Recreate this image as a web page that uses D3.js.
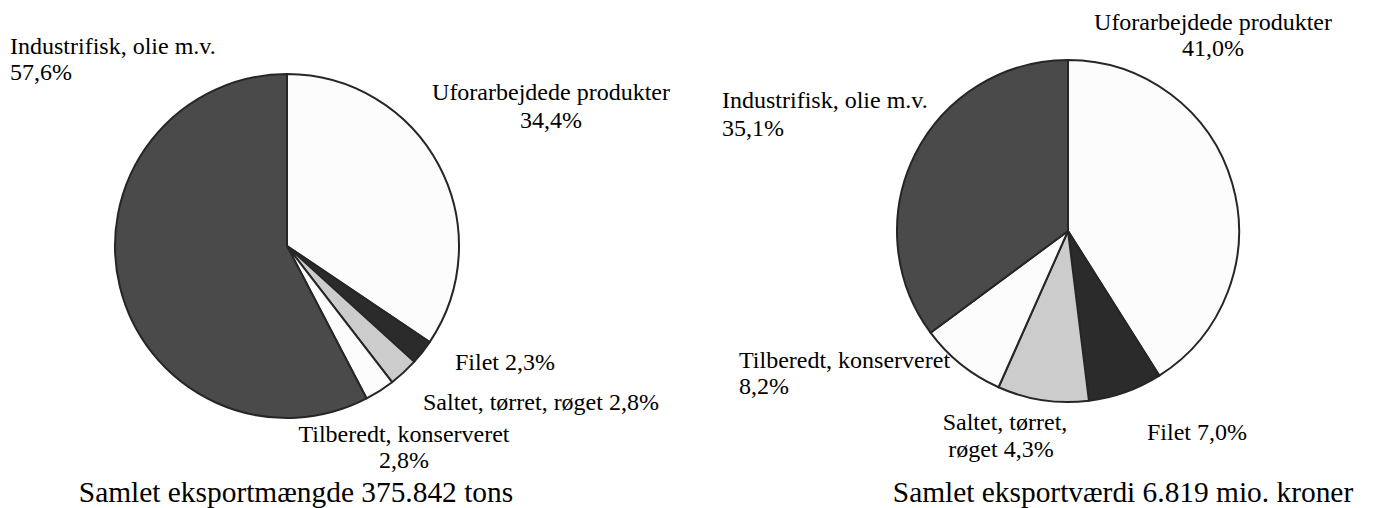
<!DOCTYPE html>
<html>
<head>
<meta charset="utf-8">
<script src="https://cdn.jsdelivr.net/npm/d3@7"></script>
<style>
  html, body { margin: 0; padding: 0; background: #ffffff; }
</style>
</head>
<body>
<svg id="chart" width="1375" height="508"></svg>
<script>
// ---- data ----
const categories = ["Uforarbejdede produkter", "Filet", "Saltet, tørret, røget", "Tilberedt, konserveret", "Industrifisk, olie m.v."];
const volumeShares = [34.4, 2.3, 2.8, 2.8, 57.6];          // Samlet eksportmængde
const valueShares  = [41.0, 7.0, 8.6, 8.2, 35.1];           // Samlet eksportværdi (slice sizes as drawn)
const volumeLabels = ["34,4%", "2,3%", "2,8%", "2,8%", "57,6%"];
const valueLabels  = ["41,0%", "7,0%", "4,3%", "8,2%", "35,1%"];
const titles = ["Samlet eksportmængde 375.842 tons", "Samlet eksportværdi 6.819 mio. kroner"];

// ---- style ----
const FONT = "'Liberation Serif', 'Times New Roman', Times, 'DejaVu Serif', serif";
const fills = ["#fcfcfc", "#2b2b2b", "#cccccc", "#fcfcfc", "#4a4a4a"];
const svg = d3.select("#chart");

const pie = d3.pie().sort(null).value(d => d);
const color = d3.scaleOrdinal().domain(categories).range(fills);

function drawPie(values, cx, cy, r) {
  const arc = d3.arc().innerRadius(0).outerRadius(r);
  const g = svg.append("g").attr("transform", `translate(${cx},${cy})`);
  g.selectAll("path")
    .data(pie(values))
    .join("path")
    .attr("d", arc)
    .attr("fill", (d, i) => color(categories[i]))
    .attr("stroke", "#262626")
    .attr("stroke-width", 2)
    .attr("stroke-linejoin", "round");
}

drawPie(volumeShares, 287, 246, 172);
drawPie(valueShares, 1068, 231, 171);

function label(lines, x, y, anchor, lh, size) {
  const t = svg.append("text")
    .attr("x", x).attr("y", y)
    .attr("text-anchor", anchor)
    .attr("font-family", FONT)
    .style("font-family", FONT)
    .attr("fill", "#000")
    .style("font-size", (size || 24) + "px");
  lines.forEach((ln, i) => {
    t.append("tspan").attr("x", x).attr("y", y + i * lh).text(ln);
  });
}

// Left pie labels
label([categories[4], volumeLabels[4]], 10, 54, "start", 26);
label([categories[0], volumeLabels[0]], 551, 100, "middle", 28);
label([categories[1] + " " + volumeLabels[1]], 455, 370, "start", 0);
label([categories[2] + " " + volumeLabels[2]], 423, 410, "start", 0);
label([categories[3], volumeLabels[3]], 404, 442, "middle", 26);

// Right pie labels
label([categories[0], valueLabels[0]], 1213, 30, "middle", 26);
label([categories[4], valueLabels[4]], 722, 108, "start", 28);
label([categories[3], valueLabels[3]], 739, 368, "start", 26);
label(["Saltet, tørret,"], 1005, 430, "middle", 0);
label(["røget " + valueLabels[2]], 1001, 457, "middle", 0);
label([categories[1] + " " + valueLabels[1]], 1147, 440, "start", 0);

// Titles
label([titles[0]], 296, 502, "middle", 0, 29.4);
label([titles[1]], 1123, 502, "middle", 0, 29.4);
</script>
</body>
</html>
